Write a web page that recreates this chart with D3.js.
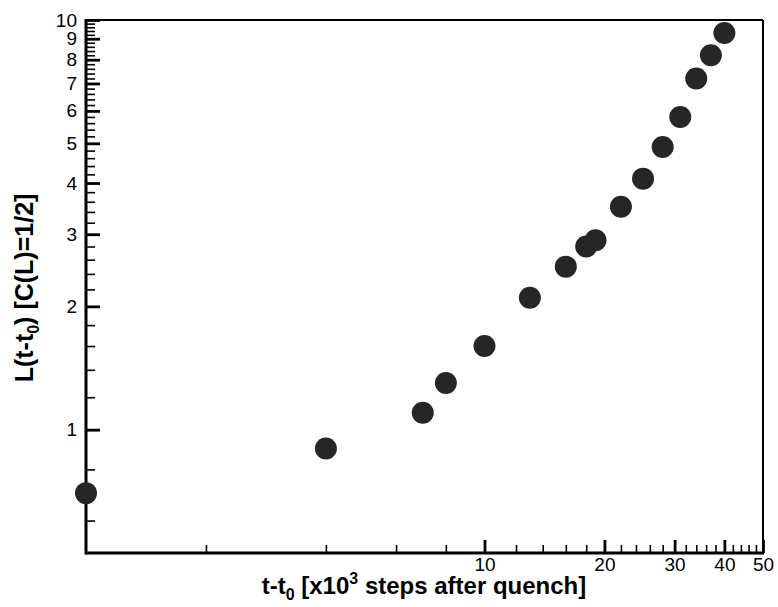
<!DOCTYPE html>
<html>
<head>
<meta charset="utf-8">
<script src="https://cdn.jsdelivr.net/npm/d3@7"></script>
<style>
  body { margin: 0; background: #fff; }
  text { font-family: Arial, "Liberation Sans", Helvetica, sans-serif; }
</style>
</head>
<body>
<svg width="778" height="607"></svg>
<script>
// time after quench, x10^3 steps
var times = [1, 4, 7, 8, 10, 13, 16, 18, 19, 22, 25, 28, 31, 34, 37, 40];
// domain size L(t-t0) where C(L)=1/2
var lengths = [0.70, 0.90, 1.1, 1.3, 1.6, 2.1, 2.5, 2.8, 2.9, 3.5, 4.1, 4.9, 5.8, 7.2, 8.2, 9.3];

var xTickLabels = [10, 20, 30, 40, 50];
var yTickLabels = [1, 2, 3, 4, 5, 6, 7, 8, 9, 10];

var svg = d3.select('svg');

var margin = { top: 20, right: 15, bottom: 54, left: 86 };
var width = svg.attr('width') - margin.left - margin.right;
var height = svg.attr('height') - margin.top - margin.bottom;

var g = svg.append('g')
    .attr('transform', 'translate(' + margin.left + ',' + margin.top + ')');

var xScale = d3.scaleLog().domain([1, 50]).range([0, width]);
var yScale = d3.scaleLog().domain([0.5, 10]).range([height, 0]);

// minor ticks: every 2 on x, every 0.2 on y
var xMinor = d3.range(2, 50, 2).filter(function (v) { return xTickLabels.indexOf(v) < 0; });
var yMinor = d3.range(3, 50).map(function (v) { return +(v * 0.2).toFixed(1); })
    .filter(function (v) { return v < 10 && v % 1 !== 0; });

function styleAxis(sel, w) {
    sel.select('.domain').remove();
    sel.selectAll('line').attr('stroke', '#000').attr('stroke-width', w);
    sel.selectAll('text').attr('font-size', 19).attr('fill', '#000');
}

g.append('g')
    .attr('transform', 'translate(0,' + height + ')')
    .call(d3.axisBottom(xScale).tickValues(xMinor).tickSize(-8).tickFormat(''))
    .call(styleAxis, 1.6);

g.append('g')
    .attr('transform', 'translate(0,' + height + ')')
    .call(d3.axisBottom(xScale).tickValues(xTickLabels).tickSize(-13).tickPadding(5)
        .tickFormat(d3.format('d')))
    .call(styleAxis, 2.8);

g.append('g')
    .call(d3.axisLeft(yScale).tickValues(yMinor).tickSize(-9).tickFormat(''))
    .call(styleAxis, 1.6);

g.append('g')
    .call(d3.axisLeft(yScale).tickValues(yTickLabels).tickSize(-14).tickPadding(9)
        .tickFormat(d3.format('d')))
    .call(styleAxis, 2.8);

// frame
g.append('line').attr('x1', 0).attr('x2', width).attr('y1', 0).attr('y2', 0)
    .attr('stroke', '#000').attr('stroke-width', 2);
g.append('line').attr('x1', width).attr('x2', width).attr('y1', 0).attr('y2', height)
    .attr('stroke', '#000').attr('stroke-width', 2);
g.append('line').attr('x1', 0).attr('x2', 0).attr('y1', -1).attr('y2', height + 1.5)
    .attr('stroke', '#000').attr('stroke-width', 3);
g.append('line').attr('x1', 0).attr('x2', width + 1).attr('y1', height).attr('y2', height)
    .attr('stroke', '#000').attr('stroke-width', 3);

// points
g.selectAll('circle')
    .data(times)
    .enter().append('circle')
    .attr('cx', function (d) { return xScale(d); })
    .attr('cy', function (d, i) { return yScale(lengths[i]); })
    .attr('r', 11)
    .attr('fill', '#262626');

// x title
var xt = svg.append('text')
    .attr('x', 424).attr('y', 594)
    .attr('text-anchor', 'middle')
    .attr('font-size', 24).attr('font-weight', 'bold');
xt.append('tspan').text('t-t');
xt.append('tspan').attr('font-size', 16).attr('dy', 6).text('0');
xt.append('tspan').attr('dy', -6).text(' [x10');
xt.append('tspan').attr('font-size', 16).attr('dy', -10).text('3');
xt.append('tspan').attr('dy', 10).text(' steps after quench]');

// y title
var yt = svg.append('text')
    .attr('transform', 'translate(33,288) rotate(-90)')
    .attr('text-anchor', 'middle')
    .attr('font-size', 25).attr('font-weight', 'bold');
yt.append('tspan').text('L(t-t');
yt.append('tspan').attr('font-size', 16).attr('dy', 6).text('0');
yt.append('tspan').attr('dy', -6).text(') [C(L)=1/2]');
</script>
</body>
</html>
